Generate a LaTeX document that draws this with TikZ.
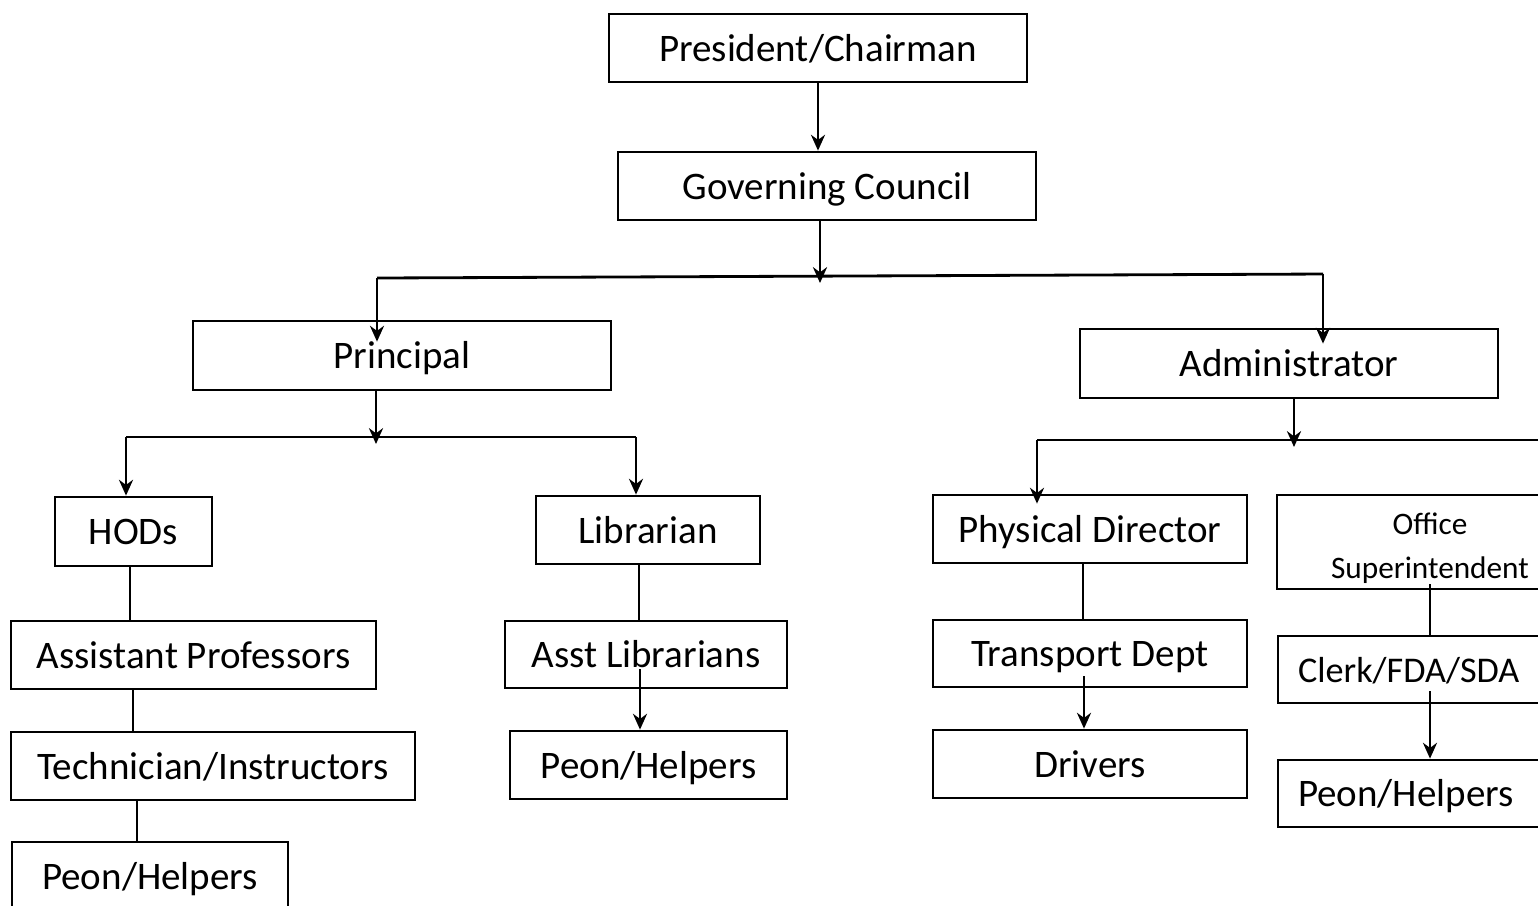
\documentclass[tikz,border=0pt]{standalone}
\usepackage{fontspec}
\setmainfont{Carlito}
\usepackage{tikz}
\usetikzlibrary{calc}
\usetikzlibrary{arrows.meta}

\tikzset{
  box/.style={draw, line width=0.8pt, minimum height=0.68cm, inner sep=0pt, text height=1.0em, text depth=0.25em, font=\fontsize{11.1}{13}\selectfont},
  lbox/.style={box, text width=2.66cm, inner xsep=0.2cm, align=left},
  arr/.style={line width=0.8pt, -{Stealth[length=4.5pt,width=4pt]}},
  ln/.style={line width=0.8pt}
}

\begin{document}
\begin{tikzpicture}
       \useasboundingbox (0,0) rectangle (15.38,-9.05);
       \clip (0,0) rectangle (15.38,-9.05);
       %TOP
       \node[box, minimum width=4.18cm] (pres) at (8.18,-0.48) {President/Chairman};
       \node[box, minimum width=4.18cm] (gov) at (8.27,-1.86) {Governing Council};
       \node[box, minimum width=4.18cm, minimum height=0.69cm] (prin) at (4.02,-3.555) {Principal};
       \node[box, minimum width=4.18cm, minimum height=0.69cm] (admin) at (12.89,-3.635) {Administrator};
       %PRINCIPAL SIDE
       \node[box, minimum width=1.57cm, minimum height=0.69cm] (hods) at (1.335,-5.315) {HODs};
       \node[box, minimum width=3.65cm] (asstp) at (1.935,-6.55) {Assistant Professors};
       \node[box, minimum width=4.04cm] (tech) at (2.13,-7.66) {Technician/Instructors};
       \node[box, minimum width=2.76cm] (peonl) at (1.50,-8.76) {Peon/Helpers};
       \node[box, minimum width=2.24cm] (libr) at (6.48,-5.30) {Librarian};
       \node[box, minimum width=2.82cm, minimum height=0.67cm] (asstl) at (6.46,-6.545) {Asst Librarians};
       \node[box, minimum width=2.77cm] (peonm) at (6.485,-7.65) {Peon/Helpers};
       %ADMINISTRATOR SIDE
       \node[box, minimum width=3.14cm] (phys) at (10.90,-5.29) {Physical Director};
       \node[box, minimum width=3.14cm, minimum height=0.67cm] (trans) at (10.90,-6.535) {Transport Dept};
       \node[box, minimum width=3.14cm] (drv) at (10.90,-7.64) {Drivers};
       \node[box, minimum width=3.06cm, minimum height=0.94cm] (offs) at (14.30,-5.42) {};
       \node[font=\fontsize{8.9}{12.5}\selectfont, align=center] (offt) at ($(offs.center)+(0,-0.06)$) {Office\\Superintendent};
       \node[lbox, minimum height=0.67cm, font=\fontsize{10.3}{12}\selectfont] (clerk) at (14.31,-6.695) {Clerk/FDA/SDA};
       \node[lbox, minimum height=0.67cm] (peonr) at (14.31,-7.935) {Peon/Helpers};
       %BARS
       \coordinate (gbar) at (8.20,-2.83);
       \coordinate (gl) at (3.77,-2.78);
       \coordinate (gr) at (13.23,-2.74);
       \coordinate (pbar) at (3.76,-4.44);
       \coordinate (pl) at (1.26,-4.37);
       \coordinate (pr) at (6.36,-4.37);
       \coordinate (abar) at (12.94,-4.47);
       \coordinate (al) at (10.37,-4.40);
       \coordinate (ar) at (15.60,-4.40);
       %TOP ARROWS
       \draw[arr] (pres.south) -- (pres.south |- gov.north);
       \draw[arr] (gbar |- gov.south) -- (gbar);
       \draw[ln] (gl) -- (gr);
       \draw[arr] (gl) -- ($(gl |- prin.north)+(0,-0.22)$);
       \draw[arr] (gr) -- ($(gr |- admin.north)+(0,-0.16)$);
       %PRINCIPAL ARROWS
       \draw[arr] (pbar |- prin.south) -- (pbar);
       \draw[ln] (pl) -- (pr);
       \draw[arr] (pl) -- (pl |- hods.north);
       \draw[arr] (pr) -- (pr |- libr.north);
       \draw[ln] (1.30,0 |- hods.south) -- (1.30,0 |- asstp.north);
       \draw[ln] (1.33,0 |- asstp.south) -- (1.33,0 |- tech.north);
       \draw[ln] (1.37,0 |- tech.south) -- (1.37,0 |- peonl.north);
       \draw[ln] (6.39,0 |- libr.south) -- (6.39,0 |- asstl.north);
       \draw[arr] ($(6.40,0 |- asstl.south)+(0,0.2)$) -- (6.40,0 |- peonm.north);
       %ADMINISTRATOR ARROWS
       \draw[arr] (abar |- admin.south) -- (abar);
       \draw[ln] (al) -- (ar);
       \draw[arr] (al) -- ($(al |- phys.north)+(0,-0.1)$);
       \draw[ln] (10.83,0 |- phys.south) -- (10.83,0 |- trans.north);
       \draw[arr] ($(10.84,0 |- trans.south)+(0,0.12)$) -- (10.84,0 |- drv.north);
       \draw[ln] ($(14.30,0 |- offs.south)+(0,0.06)$) -- (14.30,0 |- clerk.north);
       \draw[arr] ($(14.30,0 |- clerk.south)+(0,0.13)$) -- (14.30,0 |- peonr.north);
\end{tikzpicture}
\end{document}
